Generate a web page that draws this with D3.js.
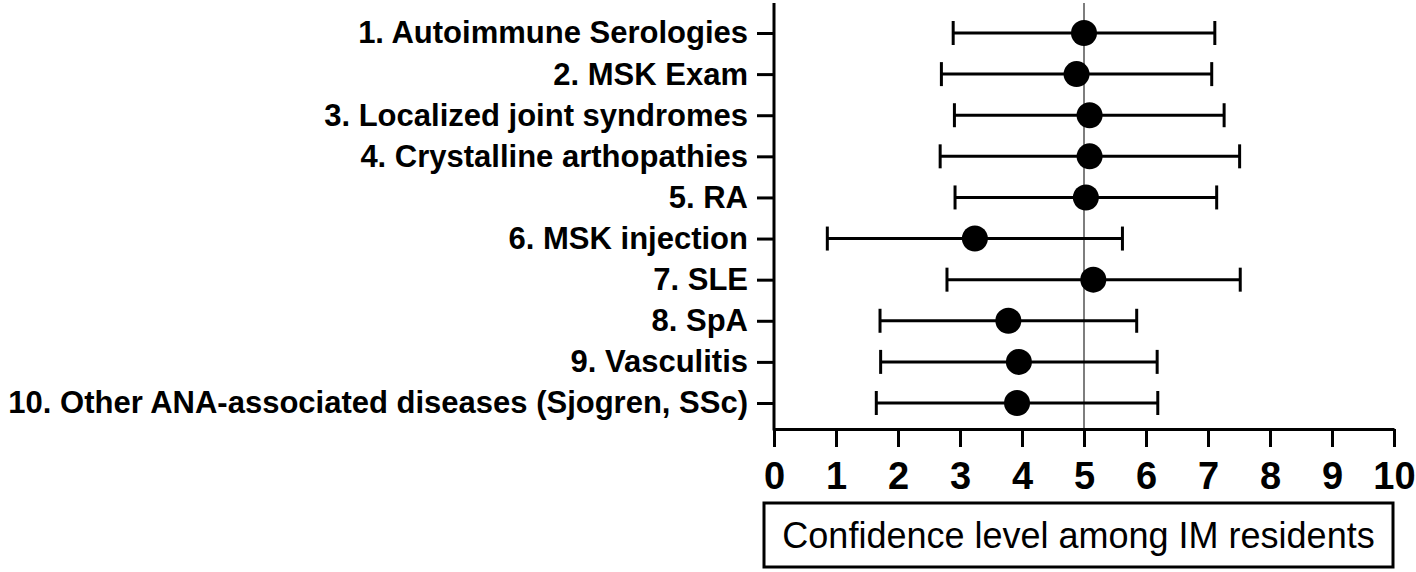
<!DOCTYPE html>
<html>
<head>
<meta charset="utf-8">
<script src="https://cdn.jsdelivr.net/npm/d3@7"></script>
<style>
  html, body { margin: 0; padding: 0; background: #fff; }
  svg { display: block; font-family: Arial, "Liberation Sans", sans-serif; }
</style>
</head>
<body>
<div id="chart"></div>
<script>
// ─── Data ───
const categories = [
  "1. Autoimmune Serologies",
  "2. MSK Exam",
  "3. Localized joint syndromes",
  "4. Crystalline arthopathies",
  "5. RA",
  "6. MSK injection",
  "7. SLE",
  "8. SpA",
  "9. Vasculitis",
  "10. Other ANA-associated diseases (Sjogren, SSc)",
];
const means = [5.0, 4.88, 5.09, 5.09, 5.03, 3.24, 5.15, 3.78, 3.95, 3.92];
const lower = [2.89, 2.7, 2.91, 2.68, 2.92, 0.86, 2.79, 1.71, 1.72, 1.65];
const upper = [7.11, 7.06, 7.26, 7.51, 7.14, 5.62, 7.52, 5.85, 6.18, 6.19];
const xTicks = [0, 1, 2, 3, 4, 5, 6, 7, 8, 9, 10];
const refValue = 5;
const axisTitle = "Confidence level among IM residents";

const rows = categories.map((c, i) => ({
  cat: c, mean: means[i], lo: lower[i], hi: upper[i],
}));

// ─── Layout ───
const W = 1416, H = 572;
const plot = { left: 774, right: 1394, top: 3, bottom: 429 };

const svg = d3.select("#chart").append("svg")
  .attr("width", W).attr("height", H);

const x = d3.scaleLinear().domain([0, 10]).range([plot.left, plot.right]);
const y = d3.scalePoint().domain(categories).range([33, 403]);

// reference line at 5
svg.append("line")
  .attr("x1", x(refValue)).attr("x2", x(refValue))
  .attr("y1", plot.top).attr("y2", plot.bottom)
  .attr("stroke", "#5e5e5e").attr("stroke-width", 1.6);

// ── Y axis ──
const gy = svg.append("g")
  .attr("transform", `translate(${plot.left},0)`)
  .call(d3.axisLeft(y).tickSize(17).tickPadding(9))
  .call((g) => g.select(".domain").remove());
gy.selectAll(".tick line").attr("stroke", "#000").attr("stroke-width", 3);
gy.selectAll("text")
  .attr("fill", "#000")
  .style("font-size", "31px")
  .style("font-weight", "bold");
svg.append("line")
  .attr("x1", plot.left).attr("x2", plot.left)
  .attr("y1", plot.top).attr("y2", plot.bottom + 1.5)
  .attr("stroke", "#000").attr("stroke-width", 3);

// ── X axis ──
const gx = svg.append("g")
  .attr("transform", `translate(0,${plot.bottom})`)
  .call(d3.axisBottom(x).tickValues(xTicks).tickFormat(d3.format("d"))
    .tickSize(18).tickSizeOuter(0).tickPadding(15));
gx.select(".domain").attr("stroke", "#000").attr("stroke-width", 3);
gx.selectAll(".tick line").attr("stroke", "#000").attr("stroke-width", 3);
gx.selectAll("text")
  .attr("fill", "#000")
  .style("font-size", "38px")
  .style("font-weight", "bold");

// ── Error bars ──
const capH = 24;
const gBars = svg.append("g").attr("stroke", "#000").attr("stroke-width", 3);
gBars.selectAll(".whisker").data(rows).join("line")
  .attr("x1", (d) => x(d.lo)).attr("x2", (d) => x(d.hi))
  .attr("y1", (d) => y(d.cat)).attr("y2", (d) => y(d.cat));
gBars.selectAll(".capL").data(rows).join("line")
  .attr("x1", (d) => x(d.lo)).attr("x2", (d) => x(d.lo))
  .attr("y1", (d) => y(d.cat) - capH / 2).attr("y2", (d) => y(d.cat) + capH / 2);
gBars.selectAll(".capR").data(rows).join("line")
  .attr("x1", (d) => x(d.hi)).attr("x2", (d) => x(d.hi))
  .attr("y1", (d) => y(d.cat) - capH / 2).attr("y2", (d) => y(d.cat) + capH / 2);

// ── Means ──
svg.append("g").selectAll("circle").data(rows).join("circle")
  .attr("cx", (d) => x(d.mean)).attr("cy", (d) => y(d.cat))
  .attr("r", 13).attr("fill", "#000");

// ── Axis title in box ──
const box = { x0: 764, x1: 1393, y0: 503, y1: 567 };
svg.append("rect")
  .attr("x", box.x0).attr("y", box.y0)
  .attr("width", box.x1 - box.x0).attr("height", box.y1 - box.y0)
  .attr("fill", "none").attr("stroke", "#000").attr("stroke-width", 3);
svg.append("text")
  .attr("x", (box.x0 + box.x1) / 2).attr("y", (box.y0 + box.y1) / 2)
  .attr("dy", "0.36em").attr("text-anchor", "middle")
  .style("font-size", "36px").attr("fill", "#000")
  .text(axisTitle);
</script>
</body>
</html>
